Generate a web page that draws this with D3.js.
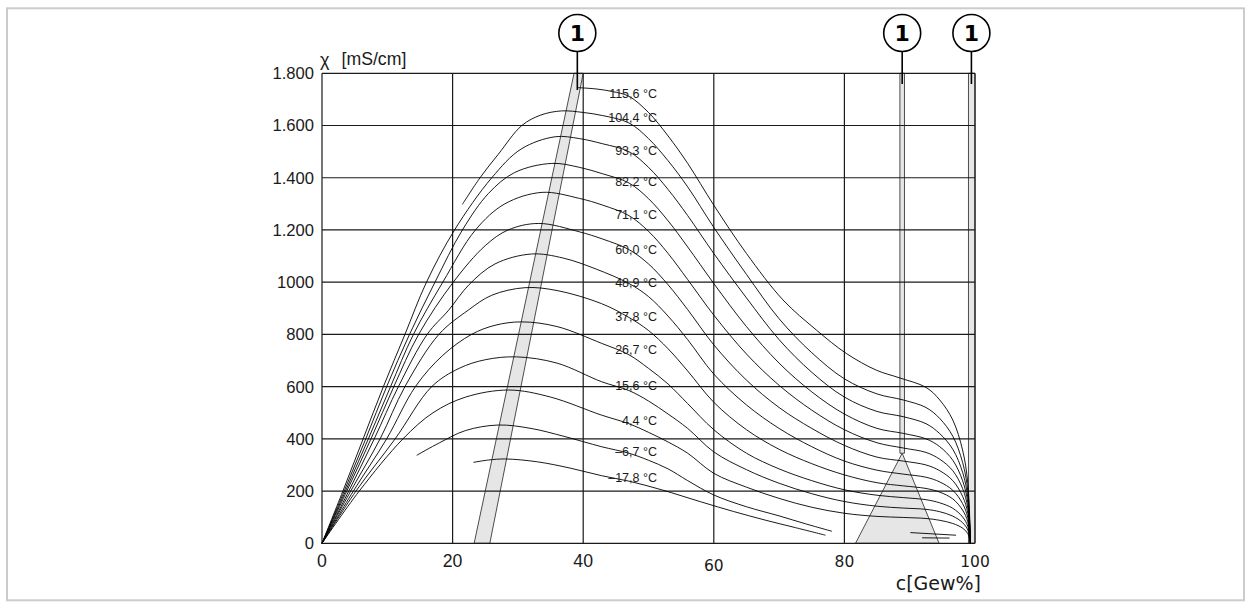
<!DOCTYPE html>
<html>
<head>
<meta charset="utf-8">
<title>Leitfähigkeit Schwefelsäure</title>
<script src="https://cdn.jsdelivr.net/npm/d3@7"></script>
<style>
    body { margin: 0; background: #fff; }
    svg text { font-family: "Liberation Sans", Arial, sans-serif; fill: #1a1a1a; }
    .grid line { stroke: #1a1a1a; stroke-width: 1.2; }
    .curve { fill: none; stroke: #000; stroke-width: 0.9; }
    .zone { fill: #e6e6e6; stroke: #222; stroke-width: 0.8; }
    .tlabel { font-size: 12.5px; }
</style>
</head>
<body>
<div id="chart"></div>
<script>
(function (d3) {
    'use strict';

    // temperatures of the curves (top to bottom)
    var tempLabels = ['115,6 °C', '104,4 °C', '93,3 °C', '82,2 °C', '71,1 °C', '60,0 °C',
        '48,9 °C', '37,8 °C', '26,7 °C', '15,6 °C', '4,4 °C', '–6,7 °C', '–17,8 °C'];
    // kappa where each label sits (at c = 47 %)
    var labelKappa = [1722, 1630, 1506, 1384, 1260, 1126, 998, 869, 742, 606, 472, 353, 251];

    // [c in Gew%, kappa in mS/cm]; null breaks a curve
    var curve115 = [[39.2,1745],[42,1740],[44.5,1730],[47,1712],[50,1650],[53,1560],[56,1455],[60,1295],[65,1110],[70.6,932],[75.7,817],[80.3,727],[84.9,663],[88.4,634],[92.5,597],[94.6,549],[96.6,472],[98.1,357],[98.9,230],[99.3,0]];
    var curve104 = [[21.5,1298],[24.2,1400],[27,1490],[30.6,1600],[33.5,1640],[36.7,1656],[40,1650],[43,1638],[47,1610],[50,1550],[53,1465],[56,1365],[60,1210],[65,1030],[70,860],[75,730],[80,630],[85,572],[89,549],[92.5,520],[94.6,478],[96.6,410],[98.1,310],[98.9,200],[99.3,0]];
    var curve93 = [[0,0],[3.2,200],[6.3,400],[9.4,600],[12.7,800],[16,1000],[20.3,1200],[26,1400],[30.5,1510],[35.7,1557],[39.4,1550],[43,1530],[47,1500],[50,1440],[53,1355],[56,1255],[60,1110],[65,940],[70,780],[75,655],[80,560],[85,505],[89,485],[92.5,458],[94.6,420],[96.6,360],[98.1,272],[98.9,175],[99.3,0]];
    var curve82 = [[0,0],[3.4,200],[6.7,400],[9.9,600],[13.4,800],[17.3,1000],[21.5,1200],[25.5,1340],[29.5,1420],[35.2,1455],[39.4,1440],[43,1415],[47,1380],[50,1320],[53,1235],[56,1135],[60,995],[65,830],[70,690],[75,580],[80,495],[85,440],[89,421],[92.5,400],[94.6,370],[96.6,318],[98.1,240],[98.9,155],[99.3,0]];
    var curve71 = [[0,0],[3.6,200],[7.1,400],[10.5,600],[14,800],[18.5,1000],[23.5,1200],[28,1300],[33.7,1344],[39.4,1321],[43,1295],[47,1255],[50,1195],[53,1110],[56,1010],[60,874],[65,725],[70,605],[75,510],[80,435],[85,385],[89,365],[92.5,348],[94.6,322],[96.6,278],[98.1,210],[98.9,135],[99.3,0]];
    var curve60 = [[0,0],[3.8,200],[7.5,400],[11,600],[14.8,800],[20.1,1000],[25,1140],[28.5,1200],[33.2,1225],[39.4,1193],[43,1165],[47,1125],[50,1070],[53,990],[56,895],[60,760],[65,625],[70,520],[75,440],[80,375],[85,330],[89,315],[92.5,300],[94.6,278],[96.6,240],[98.1,180],[98.9,115],[99.3,0]];
    var curve49 = [[0,0],[4.1,200],[8,400],[11.7,600],[16.1,800],[19.4,893],[22.5,990],[26.5,1070],[32.1,1108],[37,1092],[42,1050],[47,995],[50,945],[53,870],[56,780],[60,648],[65,530],[70,440],[75,370],[80,315],[85,280],[89,265],[92.5,253],[94.6,235],[96.6,203],[98.1,152],[98.9,98],[99.3,0]];
    var curve38 = [[0,0],[4.4,200],[8.9,400],[12.7,600],[17.9,800],[22.4,893],[26,950],[31.1,979],[36,968],[42.8,918],[47,865],[50,815],[53,745],[56,660],[60,540],[65,435],[70,360],[75,305],[80,262],[85,232],[89,220],[92.5,210],[94.6,196],[96.6,170],[98.1,127],[98.9,82],[99.3,0]];
    var curve27 = [[0,0],[4.8,200],[9.9,400],[14.3,600],[18.5,720],[22.9,800],[26.5,835],[30.6,848],[36,830],[42.8,766],[47,722],[50,670],[53,610],[56,535],[60,435],[65,345],[70,285],[75,240],[80,205],[85,184],[89,175],[92.5,167],[94.6,155],[96.6,134],[98.1,101],[98.9,65],[99.3,0]];
    var curve16 = [[0,0],[5.2,200],[11.2,400],[16.8,600],[21,670],[25,703],[29.8,714],[36,690],[42.8,619],[47,585],[50,545],[53,495],[56,440],[60,350],[65,282],[70,230],[75,190],[80,160],[85,142],[89,135],[92.5,130],[94.6,121],[96.6,104],[98.1,79],[98.9,51],[99.3,0]];
    var curve4 = [[0,0],[5.7,200],[12.4,400],[17,500],[22,560],[28.6,587],[35,560],[42.8,491],[47,458],[50,425],[53,388],[56,345],[60,268],[65,215],[70,172],[75,138],[80,115],[85,103],[89,99],[92.5,95],[94.6,88],[96.6,76],[98.1,58],[98.9,37],[99.3,0]];
    var curveM7 = [[14.5,337],[18,385],[22,432],[27,453],[32,440],[37,410],[42.8,370],[47,345],[50,318],[53,285],[56,240],[60,185],[65,140],[70,105],[74,75],[78.1,46], null, [90.1,41],[97.1,31]];
    var curveM18 = [[23.2,310],[25.5,319],[28.1,323],[33,312],[38,288],[42.8,259],[47,238],[52,205],[58,159],[63,122],[68,88],[72.5,60],[77.1,31], null, [91.9,21],[96.1,20]];

    var curves = [curve115, curve104, curve93, curve82, curve71, curve60, curve49,
        curve38, curve27, curve16, curve4, curveM7, curveM18];

    // grey ranges marked with (1)
    var zones = [
        [[23.3,0],[25.7,0],[40,1800],[38.6,1800]],
        [[88.5,345],[89.2,345],[89.2,1800],[88.5,1800]],
        [[81.7,0],[88.85,345],[94.5,0]],
        [[99,0],[100,0],[100,1800],[99,1800]]
    ];
    var markerC = [39.1, 88.85, 99.45];

    var xTicks = [0, 20, 40, 60, 80, 100];
    var yTicks = [0, 200, 400, 600, 800, 1000, 1200, 1400, 1600, 1800];
    var yTickLabels = ['0', '200', '400', '600', '800', '1000', '1.200', '1.400', '1.600', '1.800'];

    var width = 1252;
    var height = 608;

    var x = d3.scaleLinear().domain([0, 100]).range([322, 975]);
    var y = d3.scaleLinear().domain([0, 1800]).range([543.3, 73.3]);

    var svg = d3.select('#chart')
        .append('svg')
        .attr('width', width)
        .attr('height', height);

    // light frame around the figure
    svg.append('rect')
        .attr('x', 7).attr('y', 8.3)
        .attr('width', 1237).attr('height', 592)
        .attr('fill', 'none')
        .attr('stroke', '#cccccc')
        .attr('stroke-width', 2);

    svg.selectAll('.zone')
        .data(zones)
        .enter()
        .append('polygon')
        .attr('class', 'zone')
        .attr('points', function (d) {
            return d.map(function (p) { return x(p[0]) + ',' + y(p[1]); }).join(' ');
        });

    var grid = svg.append('g').attr('class', 'grid');
    grid.selectAll('.h')
        .data(yTicks)
        .enter()
        .append('line')
        .attr('x1', x(0)).attr('x2', x(100))
        .attr('y1', function (d) { return y(d); })
        .attr('y2', function (d) { return y(d); });
    grid.selectAll('.v')
        .data(xTicks)
        .enter()
        .append('line')
        .attr('x1', function (d) { return x(d); })
        .attr('x2', function (d) { return x(d); })
        .attr('y1', y(0)).attr('y2', y(1800));

    var line = d3.line()
        .defined(function (d) { return d !== null; })
        .x(function (d) { return x(d[0]); })
        .y(function (d) { return y(d[1]); })
        .curve(d3.curveCatmullRom.alpha(0.5));

    svg.selectAll('.curve')
        .data(curves)
        .enter()
        .append('path')
        .attr('class', 'curve')
        .attr('d', line);

    svg.selectAll('.tlabel')
        .data(tempLabels)
        .enter()
        .append('text')
        .attr('class', 'tlabel')
        .attr('x', x(51.3))
        .attr('y', function (d, i) { return y(labelKappa[i]); })
        .attr('dy', '0.36em')
        .attr('text-anchor', 'end')
        .text(function (d) { return d; });

    // axis tick labels
    svg.selectAll('.ylab')
        .data(yTicks)
        .enter()
        .append('text')
        .attr('x', 314)
        .attr('y', function (d) { return y(d); })
        .attr('dy', '0.36em')
        .attr('text-anchor', 'end')
        .style('font-size', '16.6px')
        .text(function (d, i) { return yTickLabels[i]; });

    svg.selectAll('.xlab')
        .data(xTicks)
        .enter()
        .append('text')
        .attr('x', function (d) { return x(d); })
        .attr('y', function (d) { return d === 60 ? 571 : 566.5; })
        .attr('text-anchor', 'middle')
        .style('font-size', function (d) { return d >= 60 ? '15.5px' : '17.7px'; })
        .style('font-family', function (d) { return d >= 60 ? '"DejaVu Sans", sans-serif' : null; })
        .text(function (d) { return d; });

    svg.append('text')
        .attr('x', 320).attr('y', 66)
        .style('font-size', '18px')
        .text('χ');
    svg.append('text')
        .attr('x', 341.5).attr('y', 64.6)
        .style('font-size', '17.7px')
        .text('[mS/cm]');

    svg.append('text')
        .attr('x', 981).attr('y', 590)
        .attr('text-anchor', 'end')
        .style('font-family', '"DejaVu Sans", sans-serif')
        .style('font-size', '19px')
        .text('c[Gew%]');

    // callouts (1)
    var marks = svg.selectAll('.mark')
        .data(markerC)
        .enter()
        .append('g')
        .attr('class', 'mark');
    marks.append('line')
        .attr('x1', function (d) { return x(d); })
        .attr('x2', function (d) { return x(d); })
        .attr('y1', 51)
        .attr('y2', function (d, i) { return i === 0 ? 90 : 84; })
        .attr('stroke', '#000')
        .attr('stroke-width', 1.6);
    marks.append('circle')
        .attr('cx', function (d) { return x(d); })
        .attr('cy', 33)
        .attr('r', 18.5)
        .attr('fill', '#fff')
        .attr('stroke', '#000')
        .attr('stroke-width', 1.6);
    marks.append('text')
        .attr('x', function (d) { return x(d); })
        .attr('y', 33)
        .attr('dy', '0.36em')
        .attr('text-anchor', 'middle')
        .style('font-family', '"DejaVu Sans", sans-serif')
        .style('font-weight', 'bold')
        .style('font-size', '22px')
        .style('fill', '#000')
        .text('1');

})(window.d3);
</script>
</body>
</html>
